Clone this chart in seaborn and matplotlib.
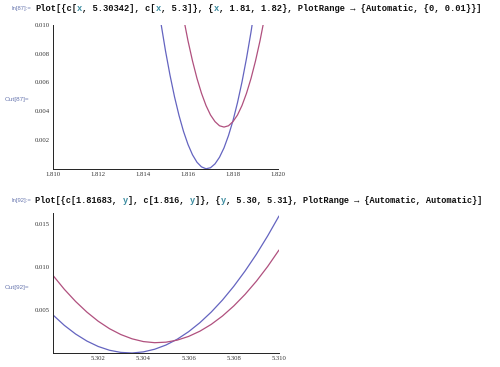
import numpy as np
import pandas as pd
import matplotlib
matplotlib.use("Agg")
import matplotlib.pyplot as plt
import seaborn as sns
from matplotlib.ticker import FixedLocator, FormatStrFormatter

# ---------------- data ----------------
# Plot 1: c[x, 5.30342] and c[x, 5.3] for x in [1.81, 1.82]
top_x_blue = [1.8146, 1.8148, 1.8150, 1.8152, 1.8154, 1.8156, 1.8158, 1.8160,
              1.8162, 1.8164, 1.8166, 1.8168, 1.8170, 1.8172, 1.8174, 1.8176,
              1.8178, 1.8180, 1.8182, 1.8184, 1.8186, 1.8188, 1.8190]
top_y_blue = [0.01218, 0.01010, 0.00820, 0.00651, 0.00501, 0.00371, 0.00260, 0.00169,
              0.00097, 0.00045, 0.00013, 0.00000, 0.00007, 0.00034, 0.00080, 0.00145,
              0.00231, 0.00335, 0.00460, 0.00604, 0.00768, 0.00951, 0.01154]
top_x_red = [1.8156, 1.8158, 1.8160, 1.8162, 1.8164, 1.8166, 1.8168, 1.8170,
             1.8172, 1.8174, 1.8176, 1.8178, 1.8180, 1.8182, 1.8184, 1.8186,
             1.8188, 1.8190, 1.8192, 1.8194, 1.8196]
top_y_red = [0.01228, 0.01050, 0.00890, 0.00750, 0.00628, 0.00525, 0.00440, 0.00374,
             0.00328, 0.00299, 0.00290, 0.00299, 0.00328, 0.00374, 0.00440, 0.00525,
             0.00628, 0.00750, 0.00890, 0.01050, 0.01228]

# Plot 2: c[1.81683, y] and c[1.816, y] for y in [5.30, 5.31]
bot_x = [5.3000, 5.3005, 5.3010, 5.3015, 5.3020, 5.3025, 5.3030, 5.3035, 5.3040,
         5.3045, 5.3050, 5.3055, 5.3060, 5.3065, 5.3070, 5.3075, 5.3080, 5.3085,
         5.3090, 5.3095, 5.3100]
bot_y_blue = [0.00443, 0.00322, 0.00221, 0.00139, 0.00076, 0.00032, 0.00007, 0.00000,
              0.00013, 0.00044, 0.00093, 0.00161, 0.00248, 0.00353, 0.00476, 0.00617,
              0.00777, 0.00955, 0.01150, 0.01364, 0.01595]
bot_y_red = [0.00903, 0.00742, 0.00600, 0.00476, 0.00370, 0.00283, 0.00215, 0.00165,
             0.00133, 0.00120, 0.00126, 0.00150, 0.00193, 0.00254, 0.00333, 0.00431,
             0.00548, 0.00683, 0.00836, 0.01008, 0.01199]

top_xticks = [1.810, 1.812, 1.814, 1.816, 1.818, 1.820]
top_yticks = [0.002, 0.004, 0.006, 0.008, 0.010]
bot_xticks = [5.302, 5.304, 5.306, 5.308, 5.310]
bot_yticks = [0.005, 0.010, 0.015]

code1 = [("Plot[{c[", "k"), ("x", "t"), (", 5.30342], c[", "k"), ("x", "t"),
         (", 5.3]}, {", "k"), ("x", "t"),
         (", 1.81, 1.82}, PlotRange \u2192 {Automatic, {0, 0.01}}]", "k")]
code2 = [("Plot[{c[1.81683, ", "k"), ("y", "t"), ("], c[1.816, ", "k"), ("y", "t"),
         ("]}, {", "k"), ("y", "t"),
         (", 5.30, 5.31}, PlotRange \u2192 {Automatic, Automatic}]", "k")]

# ---------------- drawing ----------------
sns.set_style("white")
W, H = 500, 367
fig = plt.figure(figsize=(W / 100, H / 100), dpi=100)
fig.patch.set_facecolor("white")

BLUE = "#6464c0"
RED = "#b0507e"
VAR = "#3c8ca0"
LABEL = "#6a78b0"

def fx(px):
    return px / W

def fy(py):
    return 1 - py / H

def make_axes(x0, x1, y_top, y_bot):
    return fig.add_axes([fx(x0), fy(y_bot), (x1 - x0) / W, (y_bot - y_top) / H])

def style(ax, xlim, ylim, xt, yt, xminor, yminor, xfmt, yfmt):
    ax.set_xlim(*xlim)
    ax.set_ylim(*ylim)
    for s in ["top", "right"]:
        ax.spines[s].set_visible(False)
    for s in ["left", "bottom"]:
        ax.spines[s].set_linewidth(0.7)
        ax.spines[s].set_color("#222222")
    ax.xaxis.set_major_locator(FixedLocator(xt))
    ax.yaxis.set_major_locator(FixedLocator(yt))
    ax.xaxis.set_minor_locator(FixedLocator(xminor))
    ax.yaxis.set_minor_locator(FixedLocator(yminor))
    ax.xaxis.set_major_formatter(FormatStrFormatter(xfmt))
    ax.yaxis.set_major_formatter(FormatStrFormatter(yfmt))
    ax.tick_params(which="major", direction="in", length=3.5, width=0.6,
                   color="#222222", labelsize=4.8, pad=2.5)
    ax.tick_params(which="minor", direction="in", length=2, width=0.5,
                   color="#222222")
    for lab in ax.get_xticklabels() + ax.get_yticklabels():
        lab.set_fontfamily("Liberation Serif")
        lab.set_color("#333333")
    ax.set_xlabel("")
    ax.set_ylabel("")
    ax.patch.set_alpha(0)

# top plot
ax1 = make_axes(53, 278, 25, 168.75)
df1b = pd.DataFrame({"x": top_x_blue, "y": top_y_blue})
df1r = pd.DataFrame({"x": top_x_red, "y": top_y_red})
sns.lineplot(data=df1b, x="x", y="y", ax=ax1, color=BLUE, linewidth=0.9, sort=False)
sns.lineplot(data=df1r, x="x", y="y", ax=ax1, color=RED, linewidth=0.9, sort=False)
style(ax1, (1.810, 1.820), (0, 0.010), top_xticks, top_yticks,
      [1.8105 + 0.0005 * i for i in range(19)],
      [0.0005 * i for i in range(1, 20)], "%.3f", "%.3f")

# bottom plot
ax2 = make_axes(53, 279, 213, 353)
df2 = pd.DataFrame({"x": bot_x, "blue": bot_y_blue, "red": bot_y_red})
sns.lineplot(data=df2, x="x", y="blue", ax=ax2, color=BLUE, linewidth=0.9, sort=False)
sns.lineplot(data=df2, x="x", y="red", ax=ax2, color=RED, linewidth=0.9, sort=False)
style(ax2, (5.300, 5.310), (0, 0.0163), bot_xticks, bot_yticks,
      [5.3005 + 0.0005 * i for i in range(19)],
      [0.001 * i for i in range(1, 17)], "%.3f", "%.3f")

# notebook text
def code_line(pieces, x0, y, size, cw):
    i = 0
    for txt, col in pieces:
        fig.text(fx(x0 + i * cw), fy(y), txt, fontsize=size, fontweight="bold",
                 family=["Liberation Mono", "DejaVu Sans Mono"],
                 color=("#111111" if col == "k" else VAR), va="center", ha="left")
        i += len(txt)

code_line(code1, 35, 8.5, 6.3, 5.26)
code_line(code2, 35, 200.5, 6.2, 5.17)

fig.text(fx(31), fy(8.5), "In[87]:=", fontsize=4.2, color=LABEL, ha="right",
         va="center", family="Liberation Sans")
fig.text(fx(31), fy(200.5), "In[92]:=", fontsize=4.2, color=LABEL, ha="right",
         va="center", family="Liberation Sans")
fig.text(fx(5), fy(99), "Out[87]=", fontsize=4.6, color=LABEL, ha="left",
         va="center", family="Liberation Sans")
fig.text(fx(5), fy(287), "Out[92]=", fontsize=4.6, color=LABEL, ha="left",
         va="center", family="Liberation Sans")

fig.savefig("out.png", dpi=100, facecolor="white")
